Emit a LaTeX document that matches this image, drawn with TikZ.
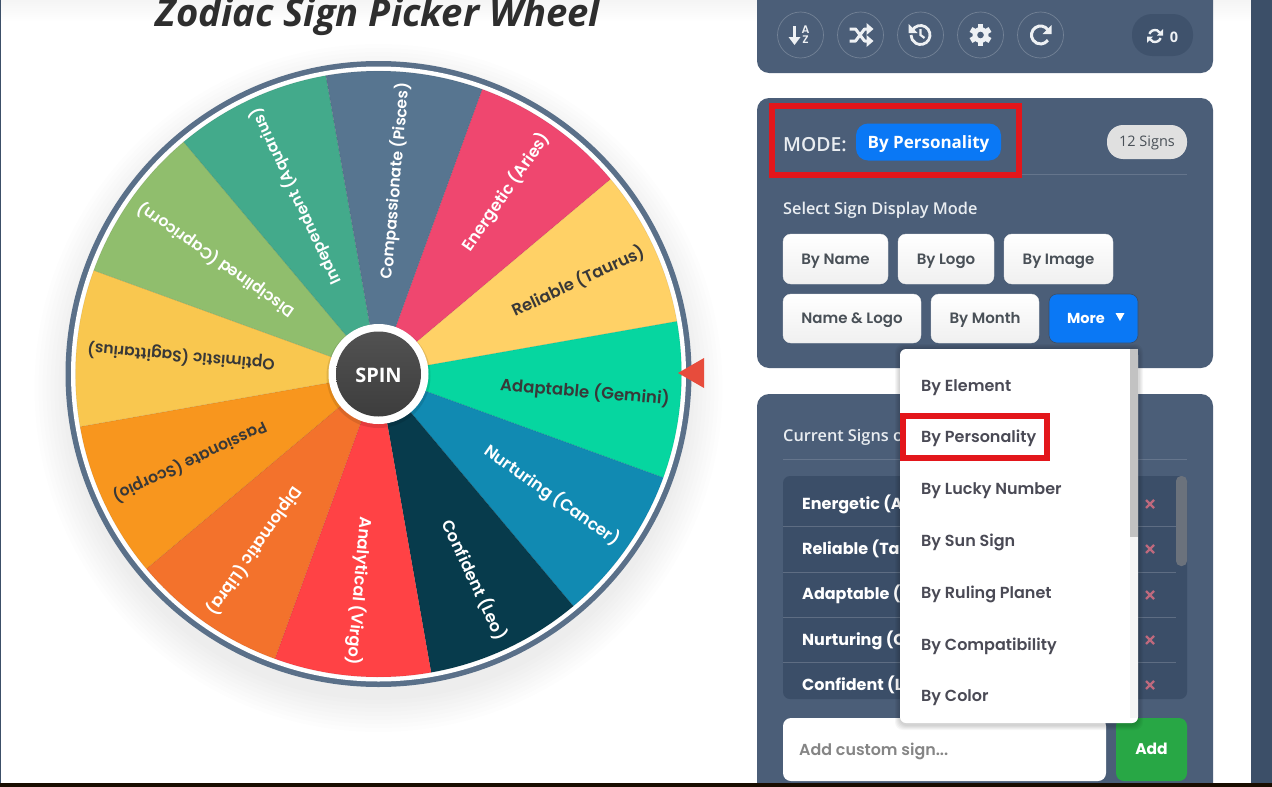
\documentclass[tikz,border=0pt]{standalone}
\usepackage{fontspec}
\setmainfont{Open Sans}
\newfontfamily\pop{Poppins}
\newfontfamily\popm{Poppins SemiBold}
\newfontfamily\opn{Open Sans}
\newfontfamily\opnm{Open Sans Semibold}
\usetikzlibrary{arrows.meta}
\definecolor{panelc}{HTML}{4B5E78}
\definecolor{listc}{HTML}{3B4E68}
\definecolor{sidec}{HTML}{3C4F68}
\definecolor{ringc}{HTML}{5A7089}
\definecolor{redbox}{HTML}{E3161B}
\definecolor{bluec}{HTML}{0A78F5}
\definecolor{btxt}{HTML}{495057}
\definecolor{itxt}{HTML}{4A4A55}
\definecolor{lightt}{HTML}{E9EDF1}
\definecolor{iconc}{HTML}{EEF1F4}
\definecolor{sAries}{HTML}{EF476F}
\definecolor{sTaurus}{HTML}{FFD166}
\definecolor{sGemini}{HTML}{06D6A0}
\definecolor{sCancer}{HTML}{118AB2}
\definecolor{sLeo}{HTML}{073B4C}
\definecolor{sVirgo}{HTML}{FF4245}
\definecolor{sLibra}{HTML}{F3722C}
\definecolor{sScorpio}{HTML}{F8961E}
\definecolor{sSag}{HTML}{F9C74F}
\definecolor{sCap}{HTML}{90BE6D}
\definecolor{sAqu}{HTML}{43AA8B}
\definecolor{sPis}{HTML}{577590}
\newcommand{\fs}[1]{\fontsize{#1}{#1}\selectfont}
\newcommand{\wslice}[5]{% start angle, fill, text colour, text, name
  \fill[#2,draw=black,draw opacity=0.08,line width=0.6pt] (0,0) -- (#1:303) arc[start angle=#1,end angle=#1+30,radius=303] -- cycle;
  \pgfmathsetmacro{\midang}{#1+15}
  \node[wheeltxt,text=#3,rotate=\midang] (#5) at (\midang:292.5) {#4};
}
\tikzset{
  x=1pt,y=-1pt,
  wheeltxt/.style={anchor=east,inner sep=0pt,font=\popm\fs{16.4}},
  btn/.style={rounded corners=8pt,top color=white,bottom color=black!6,draw=black!8,line width=0.4pt,
    inner sep=0pt,font=\popm\fs{15},text=btxt,text height=12pt,text depth=2pt},
  toolc/.style={circle,draw=white,draw opacity=0.22,line width=0.7pt,fill=panelc,minimum size=46pt,inner sep=0pt},
  rowtxt/.style={anchor=west,inner sep=0pt,font=\pop\bfseries\fs{16},text=white},
  ddtxt/.style={anchor=west,inner sep=0pt,font=\popm\fs{16},text=itxt},
  redframe/.style={draw=redbox,line width=6pt},
}
\begin{document}
\begin{tikzpicture}
\useasboundingbox (0,0) rectangle (1272,787);
\fill[white] (0,0) rectangle (1272,787);
% top fade, page frame
\shade[top color=black!4,bottom color=white] (0,0) rectangle (1251,22);
\fill[sidec] (0,0) rectangle (1,787);
\fill[sidec] (1251,0) rectangle (1272,787);
% title
\node[inner sep=0pt,font=\opn\bfseries\itshape\fs{38.2},text=black!82] (title) at (378,17) {Zodiac Sign Picker Wheel};
% wheel shadow
\foreach \r in {344,340,...,312}{
  \fill[black,opacity=0.008] (378.5,388) circle[radius=\r];
}
\begin{scope}[shift={(378.5,374)},x=1pt,y=1pt]
  \fill[ringc] (0,0) circle[radius=313];
  \fill[white] (0,0) circle[radius=307.5];
  \wslice{40}{sAries}{white}{Energetic (Aries)}{aries}
  \wslice{10}{sTaurus}{black!78}{Reliable (Taurus)}{taurus}
  \wslice{-20}{sGemini}{black!78}{\fs{16.6}Adaptable (Gemini)}{gemini}
  \wslice{-50}{sCancer}{white}{Nurturing (Cancer)}{cancer}
  \wslice{-80}{sLeo}{white}{Confident (Leo)}{leo}
  \wslice{-110}{sVirgo}{white}{Analytical (Virgo)}{virgo}
  \wslice{-140}{sLibra}{white}{Diplomatic (Libra)}{libra}
  \wslice{-170}{sScorpio}{black!78}{\fs{15.7}Passionate (Scorpio)}{scorpio}
  \wslice{160}{sSag}{black!78}{\fs{15.6}Optimistic (Sagittarius)}{sag}
  \wslice{130}{sCap}{white}{\fs{15.7}Disciplined (Capricorn)}{cap}
  \wslice{100}{sAqu}{white}{\fs{15.6}Independent (Aquarius)}{aqu}
  \wslice{70}{sPis}{white}{\fs{15.7}Compassionate (Pisces)}{pis}
\end{scope}
% hub
\fill[black,opacity=0.10] (378.5,376) circle[radius=52];
\fill[white] (378.5,374) circle[radius=50];
\shade[top color=black!68,bottom color=black!76] (378.5,374) circle[radius=42.5];
\node[inner sep=0pt,font=\opn\bfseries\fs{20},text=white] (spin) at (378.5,375) {SPIN};
% pointer
\fill[fill={rgb,255:red,231;green,76;blue,60}] (678,373) -- (704,358) -- (704,388) -- cycle;

% toolbar panel
\fill[panelc,rounded corners=12pt] (757,-20) rectangle (1213,73);
\node[toolc] (t1) at (800.5,35) {};
\node[toolc] (t2) at (860.5,35) {};
\node[toolc] (t3) at (920.5,35) {};
\node[toolc] (t4) at (980.5,35) {};
\node[toolc] (t5) at (1040.5,35) {};
% sort icon
\draw[iconc,line width=2.8pt] (t1.center) ++(-6,-9) -- ++(0,14);
\fill[iconc] (t1.center) ++(-12,2) -- ++(12,0) -- ++(-6,8) -- cycle;
\node[inner sep=0pt,font=\popm\fs{11},text=iconc] (sa) at ([shift={(5,-5.5)}]t1.center) {A};
\node[inner sep=0pt,font=\popm\fs{11},text=iconc] (sz) at ([shift={(5,5)}]t1.center) {Z};
% shuffle icon
\draw[iconc,line width=3pt,line join=round] (t2.center) ++(-11,-6) -- ++(6,0) -- ++(9,12) -- ++(4,0);
\draw[iconc,line width=3pt,line join=round] (t2.center) ++(-11,6) -- ++(6,0) -- ++(9,-12) -- ++(4,0);
\fill[iconc] (t2.center) ++(6,-12) -- ++(0,12) -- ++(7,-6) -- cycle;
\fill[iconc] (t2.center) ++(6,0) -- ++(0,12) -- ++(7,-6) -- cycle;
% history icon
\begin{scope}[shift={(t3.center)},x=1pt,y=1pt]
  \draw[iconc,line width=2.8pt] (150:9.5) arc[start angle=150,end angle=-180,radius=9.5];
  \fill[iconc] (-12,11) -- (-12,2) -- (-3,2) -- cycle;
  \draw[iconc,line width=2.2pt] (0,6) -- (0,0) -- (4,-3);
\end{scope}
% gear icon
\begin{scope}[shift={(t4.center)},x=1pt,y=1pt]
  \foreach \a in {0,60,...,300}{\fill[iconc,rotate=\a] (-2.8,6) rectangle (2.8,11);}
  \fill[iconc] (0,0) circle[radius=8];
  \fill[panelc] (0,0) circle[radius=3.3];
\end{scope}
% redo icon
\begin{scope}[shift={(t5.center)},x=1pt,y=1pt]
  \draw[iconc,line width=3pt] (35:9) arc[start angle=35,end angle=325,radius=9];
  \fill[iconc] (11,10) -- (11,1) -- (2,1) -- cycle;
\end{scope}
% counter pill
\fill[listc!75!panelc,rounded corners=20pt] (1132,14) rectangle (1193,56);
\coordinate (syncc) at (1155,36);
\begin{scope}[shift={(syncc)},x=1pt,y=1pt]
  \draw[iconc,line width=2.4pt] (160:6) arc[start angle=160,end angle=30,radius=6];
  \draw[iconc,line width=2.4pt] (-20:6) arc[start angle=-20,end angle=-150,radius=6];
  \fill[iconc] (8,7) -- (8,0.5) -- (2,0.5) -- cycle;
  \fill[iconc] (-8,-7) -- (-8,-0.5) -- (-2,-0.5) -- cycle;
\end{scope}
\node[inner sep=0pt,font=\opn\bfseries\fs{14.5},text=iconc] (cnt) at (1174,37) {0};

% mode panel
\fill[panelc,rounded corners=12pt] (757,98) rectangle (1213,368);
\node[anchor=west,inner sep=0pt,font=\opnm\fs{19.4},text=lightt] (mode) at (783,145) {MODE:};
\node[fill=bluec,rounded corners=12pt,minimum width=145pt,minimum height=37pt,inner sep=0pt] (pillbg) at (928.5,142) {};
\node[inner sep=0pt,text=white,font=\opn\bfseries\fs{17}] (pill) at (928.5,144) {By Personality};
\node[fill=black!12,rounded corners=16pt,minimum width=80pt,minimum height=34pt,inner sep=0pt] (signsbg) at (1147,142) {};
\node[inner sep=0pt,text=btxt,font=\opn\fs{14.5}] (signs) at (1147,143) {12 Signs};
\draw[white,opacity=0.15,line width=0.7pt] (783,174) -- (1187,174);
\draw[redframe] (772,106) rectangle (1019,175);
\node[anchor=west,inner sep=0pt,font=\opnm\fs{16.3},text=lightt] (sel) at (783,210.5) {Select Sign Display Mode};
\node[btn,minimum width=105pt,minimum height=50pt] (b1) at (835.5,259) {By Name};
\node[btn,minimum width=96pt,minimum height=50pt] (b2) at (946,259) {By Logo};
\node[btn,minimum width=109pt,minimum height=50pt] (b3) at (1058.5,259) {By Image};
\node[btn,minimum width=138pt,minimum height=49pt] (b4) at (852,318.5) {Name \& Logo};
\node[btn,minimum width=108pt,minimum height=49pt] (b5) at (985,318.5) {By Month};
\node[fill=bluec,draw=listc,line width=0.6pt,rounded corners=8pt,minimum width=89pt,minimum height=49pt,inner sep=0pt] (b6) at (1093.5,318.5) {};
\node[inner sep=0pt,font=\pop\bfseries\fs{14.5},text=white] (more) at (1086,318) {More};
\fill[white] (1115.5,313) -- (1124.5,313) -- (1120,321) -- cycle;

% list panel
\fill[panelc,rounded corners=12pt] (757,394) rectangle (1213,800);
\node[anchor=west,inner sep=0pt,font=\opnm\fs{16.3},text=lightt] (cur) at (783,437.5) {Current Signs o};
\draw[white,opacity=0.15,line width=0.7pt] (783,459) -- (1187,459);
\fill[listc,rounded corners=7pt] (783,476) rectangle (1187,699);
\foreach \y in {526,572,617,662}{\draw[white,opacity=0.18,line width=0.7pt] (783,\y) -- (1176,\y);}
\node[rowtxt] (r1) at (802,504) {Energetic (A};
\node[rowtxt] (r2) at (802,549) {Reliable (Ta};
\node[rowtxt] (r3) at (802,594) {Adaptable (};
\node[rowtxt] (r4) at (802,640) {Nurturing (C};
\node[rowtxt] (r5) at (802,685) {Confident (L};
\foreach \y in {504,549,595,640,685}{
  \draw[line width=2.2pt,color={rgb,255:red,190;green,105;blue,125}] (1146,\y-4) -- (1154,\y+4) (1146,\y+4) -- (1154,\y-4);
}
\fill[gray!60!panelc,rounded corners=5pt] (1176,476) rectangle (1187,566);
% input and add
\fill[white,rounded corners=8pt] (783,718) rectangle (1106,781);
\node[anchor=west,inner sep=0pt,font=\popm\fs{15.9},text=black!48] (inp) at (799,751) {Add custom sign...};
\node[fill={rgb,255:red,40;green,167;blue,69},rounded corners=8pt,minimum width=71pt,minimum height=63pt,inner sep=0pt] (addbg) at (1151.5,749.5) {};
\node[inner sep=0pt,text=white,font=\pop\bfseries\fs{15.5}] (add) at (1151.5,748.5) {Add};

% dropdown
\foreach \e in {5,4,3,2,1}{\fill[black,opacity=0.035,rounded corners=8pt] (900-\e,349-\e) rectangle (1138+\e,723+\e+2);}
\fill[white,rounded corners=6pt] (900,349) rectangle (1138,723);
\fill[black!4] (1130,352) rectangle (1138,718);
\fill[black!24] (1130,349) rectangle (1138,537);
\node[ddtxt] (d1) at (921,387.5) {By Element};
\node[ddtxt] (d2) at (921,438) {By Personality};
\node[ddtxt] (d3) at (921,490.5) {By Lucky Number};
\node[ddtxt] (d4) at (921,542.5) {By Sun Sign};
\node[ddtxt] (d5) at (921,594) {By Ruling Planet};
\node[ddtxt] (d6) at (921,646) {By Compatibility};
\node[ddtxt] (d7) at (921,697.5) {By Color};
\draw[redframe] (903,416) rectangle (1047,458);
% bottom bar
\fill[black!90!orange] (0,783) rectangle (1272,787);
\end{tikzpicture}
\end{document}
